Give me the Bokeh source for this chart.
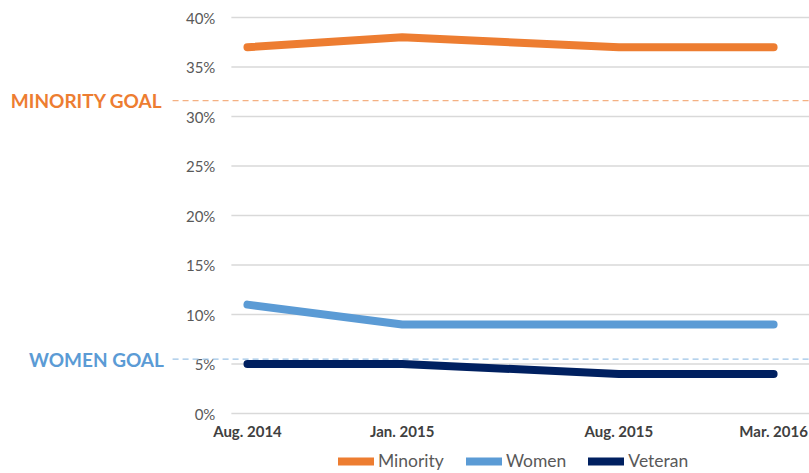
from bokeh.plotting import figure
from bokeh.models import Legend, Range1d
from bokeh.core.properties import value
from bokeh.embed import file_html
from bokeh.resources import INLINE

# ---- data ----
categories = ["Aug. 2014", "Jan. 2015", "Aug. 2015", "Mar. 2016"]
month_offsets = [0, 5, 12, 17]
minority = [37, 38, 37, 37]
women = [11, 9, 9, 9]
veteran = [5, 5, 4, 4]
minority_goal = 31.6
women_goal = 5.5
y_ticks = [0, 5, 10, 15, 20, 25, 30, 35, 40]
y_tick_labels = [f"{t}%" for t in y_ticks]

FONT = "Lato"
X_START, X_END = -7.98, 18.16
Y_START, Y_END = -6.06, 41.72
AXIS_X = -0.52

p = figure(width=809, height=473, output_backend="svg", toolbar_location=None,
           x_range=Range1d(X_START, X_END), y_range=Range1d(Y_START, Y_END),
           min_border_left=0, min_border_right=0, min_border_top=0,
           min_border_bottom=0)
p.outline_line_color = None
p.xgrid.visible = False
p.ygrid.visible = False
p.xaxis.visible = False
p.yaxis.visible = False

# gridlines and y tick labels
n = len(y_ticks)
p.segment(x0=[AXIS_X] * n, y0=y_ticks, x1=[X_END] * n, y1=y_ticks,
          line_color="#D9D9D9", line_width=1.5)
p.text(x=[AXIS_X] * n, y=y_ticks, text=y_tick_labels, x_offset=-16,
       text_align="right", text_baseline="middle", text_font=value(FONT),
       text_font_size="15px", text_color="#595959")

# x category labels
p.text(x=month_offsets, y=[0] * len(month_offsets), text=categories,
       y_offset=17, text_align="center", text_baseline="middle",
       text_font=value(FONT), text_font_size="15px",
       text_font_style="bold", text_color="#404040")

# goal lines
p.segment(x0=[-2.42], y0=[minority_goal], x1=[X_END], y1=[minority_goal],
          line_color="#F4B183", line_width=1.3, line_dash="6 4")
p.segment(x0=[-2.42], y0=[women_goal], x1=[X_END], y1=[women_goal],
          line_color="#9DC3E6", line_width=1.3, line_dash="6 4")
p.text(x=[-2.75], y=[minority_goal], text=["MINORITY GOAL"],
       text_align="right", text_baseline="middle", text_font=value(FONT),
       text_font_size="19px", text_font_style="bold", text_color="#ED7D31")
p.text(x=[-2.55], y=[women_goal], text=["WOMEN  GOAL"],
       text_align="right", text_baseline="middle", text_font=value(FONT),
       text_font_size="19px", text_font_style="bold", text_color="#5B9BD5")

# series
r1 = p.line(month_offsets, minority, line_width=8, line_color="#ED7D31",
            line_cap="round", line_join="round")
r2 = p.line(month_offsets, women, line_width=8, line_color="#5B9BD5",
            line_cap="round", line_join="round")
r3 = p.line(month_offsets, veteran, line_width=8, line_color="#002060",
            line_cap="round", line_join="round")

legend = Legend(items=[("Minority", [r1]), ("Women", [r2]), ("Veteran", [r3])],
                orientation="horizontal", location=(338, 2),
                border_line_color=None, background_fill_alpha=0,
                label_text_font=FONT, label_text_font_size="17.5px",
                label_text_color="#595959", glyph_width=36, glyph_height=18,
                label_height=18, spacing=22, padding=0, margin=0,
                label_standoff=4)
p.add_layout(legend, "center")

open("out.html", "w").write(file_html(p, INLINE))
